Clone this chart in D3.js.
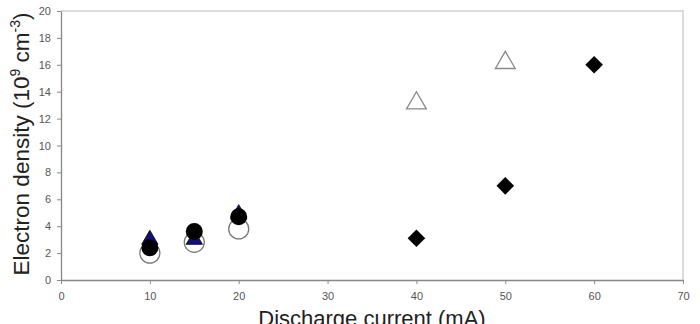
<!DOCTYPE html>
<html>
<head>
<meta charset="utf-8">
<script src="https://cdn.jsdelivr.net/npm/d3@7"></script>
<style>
body { margin: 0; background: #fff; }
text { font-family: Arial, "Liberation Sans", sans-serif; }
</style>
</head>
<body>
<div id="chart"></div>
<script>
// data
var openCircleX = [10, 15, 20];
var openCircleY = [2.0, 2.8, 3.8];
var blueTriX = [10, 15, 20];
var blueTriY = [3.0, 3.0, 4.9];
var blackCircleX = [10, 15, 20];
var blackCircleY = [2.4, 3.6, 4.7];
var openTriX = [40, 50];
var openTriY = [13, 16];
var diamondX = [40, 50, 60];
var diamondY = [3.1, 7.0, 16.0];
var xTicks = [0, 10, 20, 30, 40, 50, 60, 70];
var yTicks = [0, 2, 4, 6, 8, 10, 12, 14, 16, 18, 20];

var svgWidth = 700, svgHeight = 324;
var margin = {top: 11, left: 61, right: 17, bottom: 44};

var svg = d3.select("#chart").append("svg")
    .attr("width", svgWidth)
    .attr("height", svgHeight);

var x = d3.scaleLinear().domain([0, 70]).range([margin.left, svgWidth - margin.right]);
var y = d3.scaleLinear().domain([0, 20]).range([svgHeight - margin.bottom, margin.top]);

function zip(xs, ys) {
    return xs.map(function(v, i) { return {x: v, y: ys[i]}; });
}

// frame (top and right)
svg.append("path")
    .attr("d", "M" + x(0) + "," + y(20) + "H" + x(70) + "V" + y(0))
    .attr("fill", "none")
    .attr("stroke", "#dcdcdc")
    .attr("stroke-width", 2);

var xAxis = svg.append("g")
    .attr("transform", "translate(0," + y(0) + ")")
    .call(d3.axisBottom(x).tickValues(xTicks).tickSize(4).tickSizeOuter(0));
var yAxis = svg.append("g")
    .attr("transform", "translate(" + x(0) + ",0)")
    .call(d3.axisLeft(y).tickValues(yTicks).tickSize(4).tickSizeOuter(0));

[xAxis, yAxis].forEach(function(g) {
    g.select(".domain").attr("stroke", "#888").attr("stroke-width", 1.3);
    g.selectAll(".tick line").attr("stroke", "#888");
    g.selectAll(".tick text")
        .attr("fill", "#555")
        .attr("font-size", 11)
        .attr("font-family", "Arial, 'Liberation Sans', sans-serif");
});
xAxis.selectAll(".tick text").attr("dy", "1.2em");
yAxis.selectAll(".tick text").attr("dx", "-3");

// labels
svg.append("text")
    .attr("x", (x(0) + x(70)) / 2 + 0)
    .attr("y", 326)
    .attr("text-anchor", "middle")
    .attr("font-size", 22)
    .attr("fill", "#222")
    .text("Discharge current (mA)");

var yl = svg.append("text")
    .attr("transform", "translate(29,144) rotate(-90)")
    .attr("text-anchor", "middle")
    .attr("font-size", 22.5)
    .attr("fill", "#222");
yl.append("tspan").text("Electron density (10");
yl.append("tspan").attr("dy", -9).attr("font-size", 14).text("9");
yl.append("tspan").attr("dy", 9).text(" cm");
yl.append("tspan").attr("dy", -9).attr("font-size", 14).text("-3");
yl.append("tspan").attr("dy", 9).text(")");

// open circles
svg.append("g").selectAll("circle")
    .data(zip(openCircleX, openCircleY))
    .enter().append("circle")
    .attr("cx", function(d) { return x(d.x); })
    .attr("cy", function(d) { return y(d.y); })
    .attr("r", 10)
    .attr("fill", "#fff")
    .attr("stroke", "#777")
    .attr("stroke-width", 1.3);

// blue triangles
svg.append("g").selectAll("path")
    .data(zip(blueTriX, blueTriY))
    .enter().append("path")
    .attr("d", d3.symbol().type(d3.symbolTriangle).size(115))
    .attr("transform", function(d) { return "translate(" + x(d.x) + "," + y(d.y) + ")"; })
    .attr("fill", "#14107a")
    .attr("stroke", "#000")
    .attr("stroke-width", 0.8);

// black circles
svg.append("g").selectAll("circle")
    .data(zip(blackCircleX, blackCircleY))
    .enter().append("circle")
    .attr("cx", function(d) { return x(d.x); })
    .attr("cy", function(d) { return y(d.y); })
    .attr("r", 8.5)
    .attr("fill", "#000");

// open triangles
svg.append("g").selectAll("path")
    .data(zip(openTriX, openTriY))
    .enter().append("path")
    .attr("d", d3.symbol().type(d3.symbolTriangle).size(170))
    .attr("transform", function(d) { return "translate(" + x(d.x) + "," + (y(d.y) - 2) + ")"; })
    .attr("fill", "#fff")
    .attr("stroke", "#888")
    .attr("stroke-width", 1.3);

// diamonds
svg.append("g").selectAll("path")
    .data(zip(diamondX, diamondY))
    .enter().append("path")
    .attr("d", d3.symbol().type(d3.symbolSquare).size(155))
    .attr("transform", function(d) { return "translate(" + x(d.x) + "," + y(d.y) + ") rotate(45)"; })
    .attr("fill", "#000");
</script>
</body>
</html>
